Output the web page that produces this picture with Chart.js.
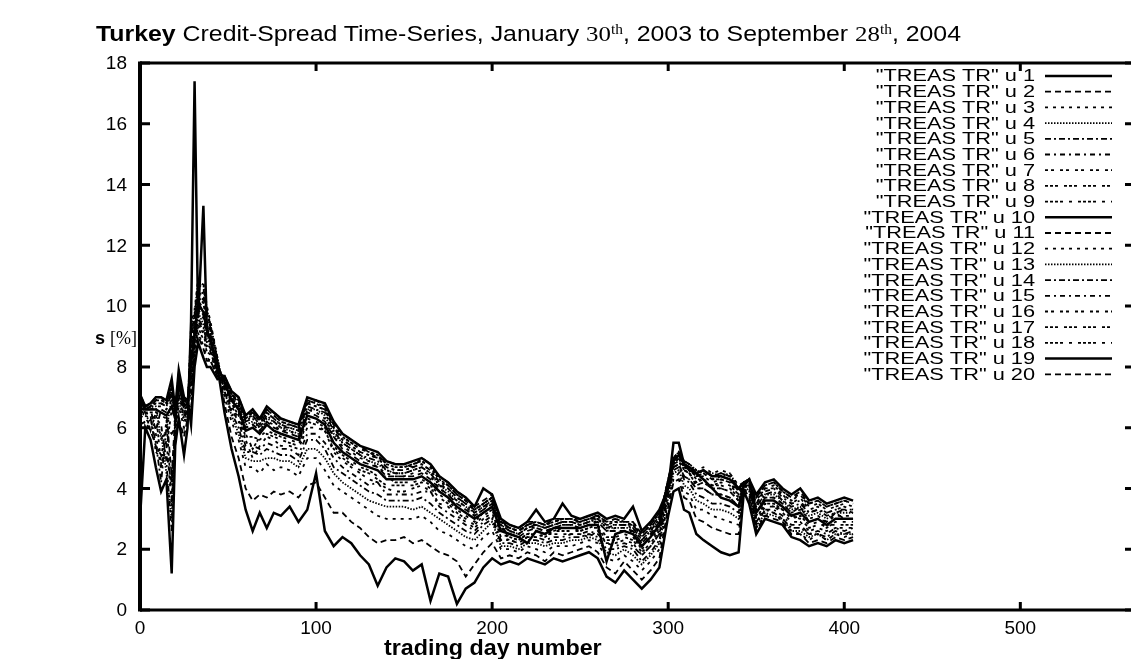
<!DOCTYPE html>
<html>
<head>
<meta charset="utf-8">
<script src="https://cdn.jsdelivr.net/npm/chart.js@4/dist/chart.umd.min.js"></script>
<style>
  html, body { margin: 0; padding: 0; background: #fff; overflow: hidden; }
  #wrap { position: relative; width: 1131px; height: 659px; }
  canvas { position: absolute; left: 0; top: 0; }
  .txt { position: absolute; white-space: nowrap; color: #000; font-family: "Liberation Sans", Arial, sans-serif; }
  .m { font-family: "Liberation Serif", "DejaVu Serif", serif; }
  .m sup { font-size: 62%; vertical-align: 0.55em; line-height: 0; }
  #title { left: 96px; top: 23px; font-size: 22px; line-height: 22px; transform: scaleX(1.13); transform-origin: left top; }
  #ylab { left: 95px; top: 328px; font-size: 18px; line-height: 20px; }
  #xlab { left: 384px; top: 637px; font-size: 22px; line-height: 22px; font-weight: bold; transform: scaleX(1.06); transform-origin: left top; }
</style>
</head>
<body>
<div id="wrap">
  <canvas id="spreadChart" width="1140" height="659"></canvas>
  <div class="txt" id="title"><b>Turkey</b> Credit-Spread Time-Series, January <span class="m">30<sup>th</sup></span>, 2003 to September <span class="m">28<sup>th</sup></span>, 2004</div>
  <div class="txt" id="ylab"><b>s</b> <span class="m">[%]</span></div>
  <div class="txt" id="xlab">trading day number</div>
</div>
<script>
// trading days at which the spreads are sampled
const days = [0,3,6,9,12,15,18,20,22,25,27, 29,31,33,36,38,40,44,
  48,52,56,60,64,68,72,76,80,85,90,95,100,105,110,115,120,125,130,135,140,145,150,155,160,165,170,175,180,185,190,195,200,
  205,210,215,220,225,230,235,240,245,250,255,260,265,270,275,280,285,290,295,
  300,303,306,309,312,316,320,325,330,335,340,343,346,
  350,355,360,365,370,375,380,385,390,395,400,405];

// credit spread in percent, one array per column of the TREAS TR file
const u1 = [3.0,6.0,5.6,4.7,3.9,4.3,1.2,5.4,6.3,5.1,6.0, 9.5,17.4,9.6,13.3,9.2,8.9,8.0,
  6.5,5.3,4.4,3.3,2.6,3.2,2.7,3.2,3.1,3.4,2.9,3.3,4.5,2.6,2.1,2.4,2.2,1.8,1.5,0.8,1.4,1.7,1.6,1.3,1.5,0.3,1.2,1.1,0.2,0.7,0.9,1.4,1.7,
  1.5,1.6,1.5,1.7,1.6,1.5,1.7,1.6,1.7,1.8,1.9,1.7,1.1,0.9,1.3,1.0,0.7,1.0,1.4,
  3.1,3.9,4.0,3.3,3.2,2.5,2.3,2.1,1.9,1.8,1.9,3.9,3.5,
  2.5,3.0,2.9,2.8,2.4,2.3,2.1,2.2,2.1,2.3,2.2,2.3];
const u2 = [6.1,6.2,5.9,5.4,5.1,5.1,4.2,5.6,6.3,5.7,6.3, 9.1,9.7,10.7,10.6,9.8,9.4,8.2,
  6.8,5.7,5.0,4.0,3.6,3.8,3.7,3.9,3.8,3.9,3.7,4.1,4.2,3.7,3.2,3.2,2.9,2.7,2.4,2.2,2.3,2.3,2.4,2.2,2.3,2.1,1.9,1.8,1.6,1.1,1.5,1.9,2.2,
  1.7,1.8,1.7,1.9,1.8,1.6,1.9,1.8,1.9,2.0,2.1,1.9,1.4,1.2,1.6,1.3,1.0,1.3,1.7,
  3.4,4.2,4.3,3.7,3.6,3.0,2.9,2.7,2.6,2.5,2.5,4.0,3.7,
  2.6,3.1,3.0,2.9,2.5,2.5,2.2,2.3,2.2,2.4,2.3,2.4];
const u3 = [6.4,6.3,6.1,5.8,4.6,5.6,3.4,5.8,6.7,6.0,6.5, 9.4,9.9,10.9,10.8,10.0,9.5,8.3,
  7.0,6.2,5.6,4.7,4.7,4.5,4.8,4.6,4.7,4.6,4.4,5.0,5.0,4.6,4.1,3.9,3.7,3.5,3.3,3.1,3.0,3.0,3.0,3.0,3.1,2.9,2.6,2.5,2.3,2.1,2.0,2.4,2.6,
  2.0,2.0,1.9,2.1,2.0,1.9,2.1,2.1,2.1,2.2,2.3,2.2,1.7,1.6,1.8,1.6,1.3,1.6,2.0,
  3.6,4.3,4.5,3.9,3.8,3.3,3.3,3.1,3.0,2.9,2.8,4.0,3.8,
  2.7,3.1,3.2,2.9,2.6,2.5,2.3,2.5,2.3,2.5,2.4,2.5];
const u4 = [6.5,6.4,6.2,6.0,5.8,4.5,3.0,6.0,6.9,6.2,6.5, 9.2,9.8,10.8,10.7,9.9,9.4,8.3,
  7.2,6.4,5.8,5.0,4.9,4.9,5.0,5.0,4.9,4.9,4.7,5.3,5.3,5.0,4.5,4.2,4.0,3.8,3.6,3.5,3.4,3.4,3.4,3.3,3.4,3.2,3.0,2.8,2.6,2.4,2.3,2.6,2.9,
  2.1,2.1,2.0,2.2,2.2,2.1,2.2,2.2,2.3,2.3,2.4,2.3,1.9,1.8,2.0,1.8,1.5,1.8,2.2,
  3.7,4.5,4.6,4.1,4.0,3.6,3.5,3.3,3.3,3.2,3.0,4.1,3.9,
  2.7,3.2,3.1,3.0,2.6,2.6,2.4,2.5,2.3,2.5,2.5,2.5];
const u5 = [6.6,6.4,6.3,5.5,4.2,6.0,5.8,6.0,7.1,6.3,6.6, 8.9,9.6,10.6,10.4,9.7,9.3,8.2,
  7.2,6.5,6.0,5.2,5.2,5.1,5.3,5.2,5.1,5.1,4.9,5.6,5.6,5.3,4.7,4.5,4.3,4.1,3.9,3.8,3.6,3.6,3.6,3.6,3.7,3.5,3.2,3.0,2.8,2.6,2.5,2.8,3.0,
  2.2,2.2,2.1,2.3,2.3,2.2,2.3,2.3,2.4,2.4,2.5,2.4,2.0,2.0,2.1,2.0,1.6,1.9,2.3,
  3.8,4.6,4.7,4.3,4.2,3.8,3.7,3.5,3.5,3.4,3.2,4.1,4.0,
  2.8,3.3,3.2,3.0,2.7,2.7,2.5,2.5,2.4,2.6,2.5,2.6];
const u6 = [6.7,6.5,6.4,6.3,6.1,4.9,2.6,6.1,7.2,6.4,6.6, 8.7,9.5,10.5,10.3,9.6,9.2,8.2,
  7.3,6.6,6.2,5.4,5.4,5.3,5.5,5.4,5.3,5.3,5.1,5.8,5.8,5.5,5.0,4.7,4.5,4.3,4.1,4.2,3.8,3.8,3.8,3.8,3.9,3.9,3.4,3.2,3.0,2.8,2.6,2.9,3.1,
  2.3,2.3,2.2,2.4,2.4,2.3,2.4,2.4,2.5,2.5,2.6,2.5,2.2,2.1,2.2,2.1,1.8,2.1,2.5,
  3.9,4.7,4.8,4.4,4.3,4.0,4.0,3.8,3.8,3.7,3.4,4.1,4.1,
  2.9,3.3,3.3,3.1,2.8,2.8,2.5,2.6,2.5,2.7,2.6,2.7];
const u7 = [6.7,6.5,6.4,5.2,5.0,6.2,6.3,6.2,7.3,6.5,6.7, 8.6,9.4,10.4,10.2,9.5,9.1,8.1,
  7.4,6.7,6.3,5.6,5.0,5.4,5.7,5.6,5.4,5.4,5.3,6.0,6.0,5.9,5.2,4.9,4.7,4.5,4.3,4.2,4.0,3.9,3.9,4.0,4.1,3.9,3.5,3.4,3.1,2.9,2.7,3.0,3.2,
  2.4,2.3,2.2,2.4,2.4,2.5,2.5,2.5,2.5,2.5,2.4,2.6,2.2,2.2,2.3,2.2,1.8,2.1,2.5,
  4.0,4.8,4.9,4.6,4.5,4.1,4.2,4.0,4.0,3.9,3.6,4.1,4.1,
  2.9,3.4,3.4,3.2,2.9,2.9,2.6,2.7,2.6,2.7,2.7,2.7];
const u8 = [6.8,6.5,5.9,6.5,6.4,6.3,3.6,6.3,7.4,6.6,6.7, 8.4,9.3,10.3,10.1,9.4,9.1,8.1,
  7.4,6.8,6.4,5.7,5.7,5.6,5.8,5.7,5.6,5.5,5.4,6.2,6.1,5.9,5.3,5.0,4.8,4.6,4.5,4.3,4.1,4.1,4.1,4.1,4.2,4.0,3.7,3.5,3.2,3.0,2.8,3.1,3.3,
  2.5,2.4,2.3,2.5,2.5,2.4,2.6,2.6,2.6,2.6,2.7,2.7,2.3,2.3,2.4,2.3,1.9,2.2,2.6,
  4.1,4.8,5.0,4.7,4.6,4.3,4.3,4.1,4.2,4.1,3.8,4.2,4.2,
  3.0,3.5,3.4,3.3,3.1,3.0,2.7,2.8,2.8,2.8,2.8,2.8];
const u9 = [6.8,6.5,6.5,6.5,4.8,5.3,6.6,6.3,7.4,6.6,6.7, 8.3,9.2,10.2,9.9,9.3,9.0,8.1,
  7.5,6.8,6.5,5.8,5.3,5.7,5.9,5.8,5.7,5.6,5.5,6.3,6.2,6.0,5.4,5.1,4.9,4.7,4.6,4.4,4.4,4.2,4.2,4.2,4.3,4.1,3.8,3.6,3.3,3.1,2.9,3.2,3.4,
  2.6,2.4,2.3,2.5,2.6,2.5,2.6,2.7,2.7,2.6,2.7,2.8,2.4,2.4,2.5,2.4,2.0,2.3,2.7,
  4.2,4.9,5.1,4.7,4.6,4.4,4.5,4.3,4.3,4.2,3.9,4.2,4.2,
  3.1,3.5,3.5,3.3,3.0,3.1,2.8,2.9,2.7,2.9,2.9,2.9];
const u10 = [6.9,6.6,6.6,6.6,6.5,6.4,6.7,6.3,7.5,6.7,6.8, 8.1,9.1,10.1,9.8,9.2,8.9,8.0,
  7.5,6.9,6.6,5.9,6.0,5.8,6.1,5.9,5.8,5.7,5.6,6.4,6.3,6.1,5.5,5.2,5.0,4.8,4.7,4.6,4.3,4.3,4.3,4.3,4.4,4.2,3.9,3.7,3.4,3.2,3.0,3.2,3.4,
  2.6,2.5,2.4,2.2,2.6,2.5,2.7,2.7,2.7,2.7,2.8,2.8,1.6,2.5,2.6,2.5,2.1,2.4,2.8,
  4.2,4.9,5.1,4.8,4.7,4.5,4.6,4.4,4.4,4.3,4.0,4.2,4.3,
  3.2,3.6,3.6,3.4,3.1,3.2,2.9,3.0,2.8,3.0,3.0,3.0];
const u11 = [6.9,6.6,6.6,5.9,6.6,6.5,4.4,6.4,7.5,6.7,6.8, 7.9,9.0,10.0,9.7,9.1,8.8,8.0,
  7.5,6.9,6.6,6.0,6.1,5.9,6.2,6.0,5.9,5.8,5.7,6.5,6.4,6.2,5.7,5.3,5.1,4.9,4.8,4.7,4.4,4.4,4.4,4.4,4.5,4.3,4.0,3.8,3.5,3.3,3.1,3.3,3.5,
  2.7,2.5,2.4,2.6,2.7,2.6,2.7,2.8,2.8,2.7,2.8,2.9,2.6,2.6,2.6,2.6,2.2,2.5,2.9,
  4.3,5.0,5.2,4.9,4.8,4.5,4.6,4.4,4.5,4.4,4.0,4.2,4.3,
  3.2,3.7,3.7,3.5,3.2,3.4,2.9,3.0,2.9,3.2,3.0,3.0];
const u12 = [6.9,6.6,6.6,6.7,6.7,6.6,6.9,6.4,7.6,6.7,6.8, 7.8,9.0,9.9,9.6,9.0,8.8,8.0,
  7.6,7.0,6.7,6.0,6.1,5.9,6.2,6.1,5.9,5.9,5.7,6.6,6.5,6.3,5.7,5.4,5.2,5.0,4.9,4.7,4.5,4.4,4.4,4.5,4.6,4.4,4.0,3.8,3.6,3.4,3.1,3.3,3.6,
  2.7,2.6,2.5,2.7,2.7,2.6,2.7,2.8,2.8,2.8,2.9,2.9,2.6,2.7,2.7,2.6,2.2,2.5,2.9,
  4.3,5.0,5.2,4.9,4.8,4.6,4.7,4.5,4.6,4.5,4.1,4.2,4.3,
  3.3,3.7,3.7,3.5,3.2,3.3,3.0,3.1,2.9,3.1,3.1,3.1];
const u13 = [6.9,6.6,6.7,6.7,5.6,5.9,7.0,6.4,7.6,6.8,6.8, 7.6,8.9,9.8,9.4,8.9,8.7,7.9,
  7.6,7.0,6.7,6.1,6.2,6.0,6.3,6.2,6.0,5.9,5.8,6.6,6.6,6.4,5.8,5.5,5.3,5.1,4.9,4.8,4.6,4.5,4.5,4.6,4.7,4.5,4.1,3.9,3.6,3.4,3.2,3.4,3.6,
  2.8,2.6,2.5,2.7,2.8,2.7,2.8,2.9,2.9,2.8,2.9,3.0,2.7,2.7,2.7,2.7,2.3,2.6,3.0,
  4.3,5.0,5.2,4.9,4.8,4.6,4.5,4.5,4.4,4.5,4.0,4.2,4.3,
  3.4,3.8,3.8,3.6,3.3,3.4,3.1,3.2,3.0,3.2,3.2,3.2];
const u14 = [7.0,6.6,6.7,6.8,6.8,6.7,7.1,6.5,7.7,6.8,6.8, 7.4,8.8,9.6,9.3,8.8,8.6,7.9,
  7.6,7.1,6.8,6.2,6.3,6.0,6.4,6.2,6.0,6.0,5.9,6.7,6.6,6.5,5.9,5.5,5.3,5.1,5.0,4.9,4.6,4.5,4.5,4.6,4.7,4.5,4.1,4.0,3.7,3.5,3.2,3.4,3.6,
  2.8,2.6,2.5,2.7,2.8,2.7,2.8,2.9,2.9,2.8,2.9,3.0,2.7,2.8,2.8,2.7,2.3,2.6,3.0,
  4.3,5.0,5.2,4.8,4.7,4.5,4.6,4.4,4.5,4.4,4.0,4.2,4.3,
  3.4,3.8,3.9,3.6,3.4,3.5,3.2,3.3,3.1,3.2,3.3,3.2];
const u15 = [7.0,6.6,6.7,6.8,6.8,6.7,7.2,6.5,7.7,6.9,6.8, 7.3,8.7,9.5,9.2,8.7,8.5,7.9,
  7.6,7.1,6.8,6.2,6.4,6.1,6.5,6.3,6.1,6.0,5.9,6.8,6.7,6.6,6.0,5.6,5.4,5.2,5.1,5.0,4.7,4.6,4.6,4.7,4.8,4.6,4.2,4.0,3.7,3.5,3.3,3.5,3.7,
  2.8,2.7,2.6,2.8,2.8,2.7,2.8,2.9,2.9,2.9,3.0,3.0,2.8,2.8,2.8,2.8,2.4,2.7,3.1,
  4.2,4.9,5.1,4.8,4.7,4.4,4.5,4.3,4.4,4.3,3.9,4.2,4.2,
  3.5,3.9,4.0,3.7,3.5,3.6,3.2,3.3,3.2,3.3,3.3,3.3];
const u16 = [7.0,6.7,6.7,6.9,6.9,6.8,7.3,6.5,7.8,6.9,6.9, 7.1,8.6,9.4,9.1,8.6,8.5,7.8,
  7.6,7.1,6.9,6.3,6.4,6.1,6.5,6.3,6.1,6.1,6.0,6.8,6.7,6.6,6.0,5.6,5.4,5.2,5.1,5.0,4.7,4.6,4.6,4.7,4.8,4.6,4.2,4.1,3.8,3.6,3.3,3.5,3.7,
  2.9,2.7,2.6,2.8,2.9,2.8,2.9,3.0,3.0,2.9,3.0,3.1,2.8,2.9,2.8,2.8,2.4,2.7,3.1,
  4.2,4.9,5.1,4.7,4.6,4.4,4.4,4.2,4.3,4.2,3.8,4.2,4.2,
  3.5,4.0,4.0,3.8,3.5,3.7,3.3,3.4,3.2,3.3,3.4,3.3];
const u17 = [7.0,6.7,6.7,6.9,6.9,6.8,7.4,6.5,7.8,6.9,6.9, 6.9,8.5,9.3,8.9,8.5,8.4,7.8,
  7.7,7.1,6.9,6.3,6.5,6.2,6.6,6.4,6.2,6.1,6.0,6.9,6.8,6.6,6.0,5.7,5.5,5.3,5.2,5.1,4.8,4.7,4.7,4.8,4.9,4.7,4.3,4.1,3.8,3.6,3.3,3.5,3.7,
  2.9,2.7,2.6,2.8,2.9,2.8,2.9,3.0,3.0,2.9,3.0,3.1,2.9,2.9,2.9,2.8,2.5,2.8,3.2,
  4.1,4.8,5.0,4.6,4.5,4.2,4.3,4.1,4.1,4.0,3.7,4.2,4.2,
  3.6,4.0,4.1,3.8,3.6,3.8,3.4,3.5,3.3,3.4,3.5,3.4];
const u18 = [7.1,6.7,6.8,6.9,7.0,6.8,7.4,6.6,7.8,6.9,6.9, 6.6,8.3,9.1,8.7,8.3,8.2,7.7,
  7.7,7.1,6.9,6.3,6.5,6.2,6.6,6.4,6.2,6.1,6.0,6.9,6.8,6.7,6.1,5.7,5.5,5.3,5.2,5.1,4.8,4.7,4.7,4.8,4.9,4.7,4.3,4.1,3.8,3.6,3.3,3.5,3.7,
  2.9,2.7,2.6,2.8,2.9,2.8,2.9,3.0,3.0,2.9,3.0,3.1,2.9,3.0,2.9,2.9,2.5,2.8,3.2,
  4.0,4.8,4.9,4.6,4.5,4.1,4.2,4.0,4.0,3.9,3.6,4.1,4.1,
  3.7,4.1,4.2,3.9,3.7,3.8,3.5,3.6,3.4,3.5,3.6,3.5];
const u19 = [7.1,6.7,6.8,7.0,7.0,6.9,7.6,6.6,7.9,7.0,6.9, 6.1,8.0,8.8,8.3,8.0,8.0,7.6,
  7.7,7.2,7.0,6.4,6.6,6.3,6.7,6.5,6.3,6.2,6.1,7.0,6.9,6.8,6.2,5.8,5.6,5.4,5.3,5.2,4.9,4.8,4.8,4.9,5.0,4.8,4.4,4.2,3.9,3.7,3.4,4.0,3.8,
  3.0,2.8,2.7,2.9,3.3,2.9,3.0,3.5,3.1,3.0,3.1,3.2,3.0,3.1,3.0,3.4,2.6,2.9,3.3,
  4.0,5.5,5.5,4.8,4.6,4.5,4.3,4.0,3.7,3.6,3.4,4.1,4.3,
  3.8,4.2,4.3,4.0,3.8,4.0,3.6,3.7,3.5,3.6,3.7,3.6];
const u20 = [7.1,6.7,6.8,7.0,7.0,6.9,7.2,6.6,7.6,7.0,6.9, 6.4,8.2,9.0,8.6,8.2,8.2,7.7,
  7.7,7.2,7.0,6.4,6.5,6.3,6.6,6.5,6.3,6.2,6.1,6.8,6.9,6.7,6.1,5.8,5.6,5.4,5.2,5.0,4.9,4.8,4.8,4.7,5.0,4.8,4.4,4.2,3.9,3.7,3.4,3.6,3.8,
  2.9,2.8,2.7,2.9,2.9,2.8,3.0,3.0,3.0,3.0,3.1,3.1,2.9,3.0,2.9,2.9,2.5,2.8,3.2,
  3.9,4.7,4.8,4.4,4.3,4.0,4.0,3.8,3.8,3.7,3.4,4.1,4.1,
  3.7,4.1,4.2,3.9,3.7,3.9,3.5,3.6,3.4,3.5,3.6,3.5];

const columns = [u1,u2,u3,u4,u5,u6,u7,u8,u9,u10,u11,u12,u13,u14,u15,u16,u17,u18,u19,u20];

// gnuplot postscript line types 1..9, repeated
const dashTypes = [
  [],
  [6, 4],
  [3, 5],
  [1.5, 1.5],
  [6, 3, 2, 3],
  [5, 4, 2, 4],
  [3, 3, 3, 6],
  [3, 2, 3, 2, 3, 6],
  [3, 2, 3, 2, 3, 2, 3, 6, 3, 6]
];

const datasets = columns.map((vals, i) => {
  const dash = dashTypes[i % 9];
  return {
    label: '"TREAS TR" u ' + (i + 1),
    data: vals.map((v, j) => ({ x: days[j], y: v })),
    borderColor: '#000',
    borderWidth: dash.length ? 1.8 : 2.5,
    borderDash: dash,
    pointRadius: 0,
    tension: 0,
    fill: false
  };
});

// border, inward ticks (mirrored) and tick labels in gnuplot style
const gnuFrame = {
  id: 'gnuFrame',
  afterDraw(chart) {
    const { ctx, chartArea: a, scales: { x, y } } = chart;
    const xt = x.ticks.filter(t => t.value % 100 === 0);
    ctx.save();
    ctx.strokeStyle = '#000';
    ctx.lineWidth = 3;
    ctx.beginPath();
    ctx.moveTo(a.left, a.top); ctx.lineTo(a.right, a.top);
    ctx.moveTo(a.left, a.bottom); ctx.lineTo(a.right, a.bottom);
    ctx.moveTo(a.right, a.top); ctx.lineTo(a.right, a.bottom);
    ctx.stroke();
    ctx.lineWidth = 4;
    ctx.beginPath();
    ctx.moveTo(a.left, a.top - 1.5); ctx.lineTo(a.left, a.bottom + 1.5);
    ctx.stroke();
    ctx.lineWidth = 3;
    ctx.beginPath();
    y.ticks.forEach(t => {
      const py = y.getPixelForValue(t.value);
      ctx.moveTo(a.left, py); ctx.lineTo(a.left + 10, py);
      ctx.moveTo(a.right, py); ctx.lineTo(a.right - 8, py);
    });
    xt.forEach(t => {
      const px = x.getPixelForValue(t.value);
      ctx.moveTo(px, a.bottom); ctx.lineTo(px, a.bottom - 8);
      ctx.moveTo(px, a.top); ctx.lineTo(px, a.top + 8);
    });
    ctx.stroke();

    ctx.fillStyle = '#000';
    ctx.font = '19px "Liberation Sans", Arial, sans-serif';
    ctx.textAlign = 'right';
    ctx.textBaseline = 'middle';
    y.ticks.forEach(t => ctx.fillText(String(t.value), a.left - 13, y.getPixelForValue(t.value) + 1));
    ctx.textAlign = 'center';
    ctx.textBaseline = 'middle';
    xt.forEach(t => ctx.fillText(String(t.value), x.getPixelForValue(t.value), a.bottom + 19));
    ctx.restore();
  }
};

// key in the top right corner: right-aligned titles, line sample after
const gnuKey = {
  id: 'gnuKey',
  afterDraw(chart) {
    const ctx = chart.ctx;
    chart.data.datasets.forEach((ds, i) => {
      const yy = 76 + i * 15.7;
      ctx.save();
      ctx.fillStyle = '#000';
      ctx.font = '16px "Liberation Sans", Arial, sans-serif';
      ctx.textAlign = 'right';
      ctx.textBaseline = 'middle';
      ctx.translate(1035, yy + 1);
      ctx.scale(1.36, 1);
      ctx.fillText(ds.label, 0, 0);
      ctx.restore();
      ctx.save();
      ctx.strokeStyle = '#000';
      ctx.lineWidth = ds.borderWidth;
      ctx.setLineDash(ds.borderDash);
      ctx.beginPath();
      ctx.moveTo(1045, yy);
      ctx.lineTo(1112, yy);
      ctx.stroke();
      ctx.restore();
    });
  }
};

new Chart(document.getElementById('spreadChart').getContext('2d'), {
  type: 'line',
  data: { datasets },
  options: {
    responsive: false,
    animation: false,
    devicePixelRatio: 1,
    layout: { padding: { top: 63, right: 7, left: 0, bottom: 0 } },
    plugins: { legend: { display: false }, tooltip: { enabled: false } },
    scales: {
      x: {
        type: 'linear',
        min: 0,
        max: 564,
        ticks: { stepSize: 100, display: false },
        grid: { display: false },
        border: { display: false },
        afterFit: s => { s.height = 49; }
      },
      y: {
        min: 0,
        max: 18,
        ticks: { stepSize: 2, display: false },
        grid: { display: false },
        border: { display: false },
        afterFit: s => { s.width = 140; }
      }
    }
  },
  plugins: [gnuFrame, gnuKey]
});
</script>
</body>
</html>
